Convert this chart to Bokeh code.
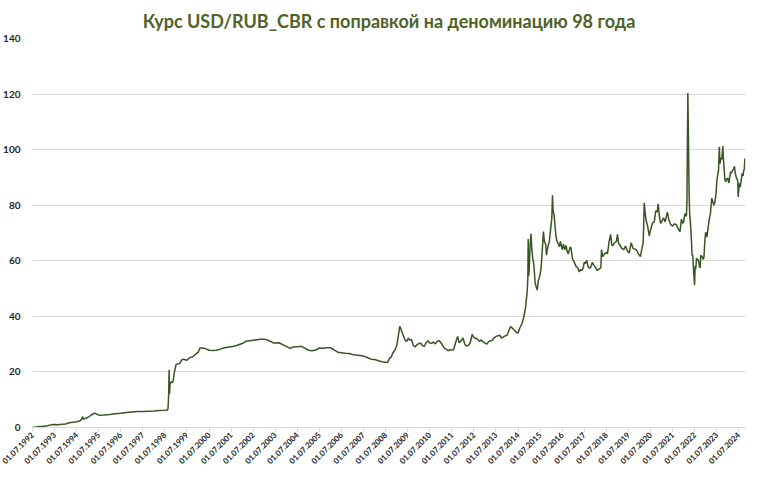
import math
import pandas as pd
from bokeh.plotting import figure
from bokeh.models import FixedTicker, DatetimeTickFormatter, Range1d, ColumnDataSource
from bokeh.embed import file_html
from bokeh.resources import INLINE

title_text = "Курс USD/RUB_CBR с поправкой на деноминацию 98 года"

tick_years = list(range(1992, 2025))
y_ticks = [0, 20, 40, 60, 80, 100, 120, 140]

dates = [
    "1992-07-01", "1992-09-01", "1992-11-01", "1993-01-01", "1993-03-01", "1993-05-01",
    "1993-07-01", "1993-09-01", "1993-11-01", "1994-01-01", "1994-03-01", "1994-05-01",
    "1994-07-01", "1994-09-01", "1994-10-11", "1994-10-14", "1994-11-01", "1995-01-01",
    "1995-03-01", "1995-04-15", "1995-05-15", "1995-06-15", "1995-07-15", "1995-10-01",
    "1996-01-01", "1996-04-01", "1996-07-01", "1996-10-01", "1997-01-01", "1997-04-01",
    "1997-07-01", "1997-10-01", "1998-01-01", "1998-04-01", "1998-07-01", "1998-08-17",
    "1998-08-25", "1998-09-01", "1998-09-09", "1998-09-15", "1998-09-25", "1998-10-01",
    "1998-10-15", "1998-11-01", "1998-11-15", "1998-12-01", "1999-01-01", "1999-02-01",
    "1999-03-01", "1999-04-01", "1999-05-01", "1999-06-01", "1999-07-01", "1999-08-01",
    "1999-09-01", "1999-10-01", "1999-11-01", "1999-12-01", "2000-01-01", "2000-02-01",
    "2000-03-01", "2000-05-01", "2000-07-01", "2000-09-01", "2000-11-01", "2001-01-01",
    "2001-03-01", "2001-05-01", "2001-07-01", "2001-09-01", "2001-11-01", "2002-01-01",
    "2002-03-01", "2002-05-01", "2002-07-01", "2002-09-01", "2002-11-01", "2003-01-01",
    "2003-03-01", "2003-05-01", "2003-06-01", "2003-07-01", "2003-09-01", "2003-11-01",
    "2004-01-01", "2004-03-01", "2004-05-01", "2004-07-01", "2004-09-01", "2004-11-01",
    "2005-01-01", "2005-03-01", "2005-05-01", "2005-07-01", "2005-09-01", "2005-11-01",
    "2006-01-01", "2006-03-01", "2006-05-01", "2006-07-01", "2006-09-01", "2006-11-01",
    "2007-01-01", "2007-03-01", "2007-05-01", "2007-07-01", "2007-09-01", "2007-11-01",
    "2008-01-01", "2008-03-01", "2008-05-01", "2008-07-01", "2008-08-01", "2008-09-01",
    "2008-10-01", "2008-11-01", "2008-12-01", "2009-01-01", "2009-01-20", "2009-02-19",
    "2009-03-10", "2009-04-01", "2009-05-01", "2009-05-20", "2009-06-15", "2009-07-10",
    "2009-08-01", "2009-09-01", "2009-10-01", "2009-11-01", "2009-12-01", "2010-01-01",
    "2010-02-01", "2010-03-01", "2010-04-01", "2010-05-01", "2010-06-01", "2010-07-01",
    "2010-08-01", "2010-09-01", "2010-10-01", "2010-11-01", "2010-12-01", "2011-01-01",
    "2011-02-01", "2011-03-01", "2011-04-01", "2011-05-01", "2011-06-01", "2011-07-01",
    "2011-08-01", "2011-09-01", "2011-10-05", "2011-11-01", "2011-12-01", "2012-01-01",
    "2012-02-01", "2012-03-01", "2012-04-01", "2012-05-01", "2012-06-01", "2012-07-01",
    "2012-08-01", "2012-09-01", "2012-10-01", "2012-11-01", "2012-12-01", "2013-01-01",
    "2013-02-01", "2013-03-01", "2013-04-01", "2013-05-01", "2013-06-01", "2013-07-01",
    "2013-08-01", "2013-09-01", "2013-10-01", "2013-11-01", "2013-12-01", "2014-01-01",
    "2014-02-01", "2014-03-01", "2014-04-01", "2014-05-01", "2014-06-01", "2014-07-01",
    "2014-08-01", "2014-09-01", "2014-10-01", "2014-11-01", "2014-11-20", "2014-12-01",
    "2014-12-10", "2014-12-16", "2014-12-22", "2015-01-01", "2015-01-15", "2015-02-01",
    "2015-02-15", "2015-03-01", "2015-03-20", "2015-04-10", "2015-04-25", "2015-05-15",
    "2015-06-01", "2015-06-20", "2015-07-15", "2015-08-01", "2015-08-25", "2015-09-10",
    "2015-10-01", "2015-10-15", "2015-11-01", "2015-12-01", "2015-12-25", "2016-01-10",
    "2016-01-22", "2016-02-01", "2016-02-20", "2016-03-10", "2016-03-25", "2016-04-15",
    "2016-05-01", "2016-05-15", "2016-06-01", "2016-06-15", "2016-07-01", "2016-07-20",
    "2016-08-10", "2016-09-01", "2016-09-20", "2016-10-10", "2016-11-10", "2016-11-25",
    "2016-12-15", "2017-01-15", "2017-02-15", "2017-03-15", "2017-04-10", "2017-05-01",
    "2017-05-20", "2017-06-15", "2017-07-01", "2017-07-20", "2017-08-10", "2017-09-01",
    "2017-09-15", "2017-10-15", "2017-11-10", "2017-12-01", "2018-01-01", "2018-02-01",
    "2018-03-01", "2018-04-01", "2018-04-12", "2018-05-01", "2018-06-01", "2018-07-01",
    "2018-07-20", "2018-08-15", "2018-09-10", "2018-10-01", "2018-10-20", "2018-11-15",
    "2018-12-15", "2019-01-01", "2019-01-20", "2019-02-15", "2019-03-15", "2019-04-15",
    "2019-05-15", "2019-06-15", "2019-07-15", "2019-08-15", "2019-09-15", "2019-10-15",
    "2019-11-15", "2019-12-15", "2020-01-15", "2020-02-01", "2020-03-01", "2020-03-10",
    "2020-03-19", "2020-04-05", "2020-04-20", "2020-05-15", "2020-06-10", "2020-07-01",
    "2020-08-01", "2020-09-01", "2020-09-25", "2020-10-20", "2020-11-05", "2020-11-25",
    "2020-12-15", "2021-01-01", "2021-02-01", "2021-03-01", "2021-04-05", "2021-05-01",
    "2021-06-01", "2021-07-01", "2021-08-01", "2021-09-01", "2021-10-15", "2021-11-01",
    "2021-11-25", "2021-12-15", "2022-01-01", "2022-01-20", "2022-02-15", "2022-02-24",
    "2022-03-01", "2022-03-11", "2022-03-20", "2022-04-01", "2022-04-10", "2022-04-25",
    "2022-05-10", "2022-05-20", "2022-06-01", "2022-06-15", "2022-06-30", "2022-07-10",
    "2022-07-20", "2022-08-01", "2022-08-15", "2022-09-01", "2022-09-20", "2022-10-01",
    "2022-10-10", "2022-11-01", "2022-11-15", "2022-12-01", "2022-12-20", "2023-01-01",
    "2023-01-20", "2023-02-10", "2023-03-01", "2023-03-20", "2023-04-10", "2023-04-25",
    "2023-05-15", "2023-06-01", "2023-06-20", "2023-07-05", "2023-07-20", "2023-08-01",
    "2023-08-14", "2023-08-25", "2023-09-10", "2023-09-25", "2023-10-10", "2023-10-20",
    "2023-11-01", "2023-11-15", "2023-12-01", "2023-12-15", "2024-01-01", "2024-01-20",
    "2024-02-01", "2024-02-15", "2024-03-01", "2024-03-20", "2024-04-05", "2024-04-20",
    "2024-05-05", "2024-05-20", "2024-06-01", "2024-06-15", "2024-06-20", "2024-07-01",
    "2024-07-10", "2024-07-25", "2024-08-10", "2024-08-25", "2024-09-10", "2024-09-20",
    "2024-10-01", "2024-10-10",
]

rates = [
    0.13, 0.2, 0.4, 0.42, 0.65, 0.95,
    1.05, 1.0, 1.19, 1.25, 1.7, 1.85,
    2.05, 2.4, 3.9, 2.95, 3.1, 3.6,
    4.5, 5.1, 5.0, 4.6, 4.45, 4.5,
    4.65, 4.95, 5.1, 5.4, 5.56, 5.72,
    5.78, 5.87, 5.96, 6.1, 6.2, 6.3,
    7.9, 12.0, 20.8, 12.0, 16.0, 15.9,
    16.5, 16.1, 16.8, 19.5, 22.6, 22.9,
    23.0, 24.2, 24.6, 24.4, 24.2, 24.9,
    25.3, 25.4, 26.0, 26.6, 27.0, 28.6,
    28.6, 28.4, 27.8, 27.7, 27.8, 28.2,
    28.6, 28.9, 29.1, 29.3, 29.8, 30.2,
    31.0, 31.2, 31.4, 31.6, 31.8, 31.8,
    31.4, 30.8, 30.4, 30.4, 30.5, 29.8,
    29.2, 28.5, 29.0, 29.1, 29.2, 28.6,
    27.8, 27.6, 27.9, 28.6, 28.5, 28.7,
    28.7, 27.9, 27.1, 26.9, 26.7, 26.6,
    26.3, 26.1, 25.9, 25.7, 25.2, 24.6,
    24.5, 24.0, 23.7, 23.5, 23.4, 24.8,
    25.4, 27.0, 27.9, 29.4, 32.0, 36.4,
    35.5, 34.0, 32.5, 31.3, 31.0, 32.2,
    31.5, 31.7, 29.6, 29.0, 29.8, 30.2,
    30.3, 29.5, 29.2, 30.5, 31.2, 30.4,
    30.3, 30.8, 30.1, 31.0, 31.3, 30.5,
    29.5, 28.5, 28.2, 27.6, 28.0, 27.9,
    28.0, 30.5, 32.8, 30.5, 31.2, 32.2,
    30.0, 29.3, 29.5, 30.5, 33.5, 32.3,
    32.1, 31.8, 31.0, 31.5, 30.8, 30.4,
    30.0, 30.9, 31.2, 31.4, 32.3, 32.8,
    33.0, 33.2, 32.2, 32.6, 33.0, 33.2,
    35.0, 36.3, 35.7, 35.0, 34.3, 34.0,
    35.9, 37.2, 39.5, 43.0, 47.0, 49.3,
    54.0, 67.8, 54.5, 56.2, 65.0, 69.7,
    64.0, 61.0, 58.5, 52.0, 50.8, 49.5,
    53.0, 54.0, 57.0, 62.0, 70.5, 67.0,
    66.0, 62.0, 64.5, 67.0, 72.0, 75.0,
    83.6, 78.0, 76.0, 71.0, 68.0, 66.5,
    66.0, 65.0, 67.0, 65.5, 64.0, 66.0,
    64.0, 65.5, 63.5, 62.5, 65.0, 64.5,
    61.0, 59.5, 58.0, 57.5, 56.0, 56.8,
    56.5, 57.5, 59.5, 59.0, 60.2, 58.0,
    57.4, 57.6, 59.4, 58.6, 57.6, 56.5,
    57.0, 57.5, 64.0, 61.5, 62.5, 63.0,
    62.5, 66.8, 69.5, 65.5, 65.6, 66.5,
    67.0, 69.5, 66.3, 65.5, 64.5, 64.0,
    65.3, 63.5, 62.8, 66.5, 64.5, 64.2,
    63.8, 62.5, 61.5, 63.5, 66.5, 72.0,
    80.9, 77.0, 74.5, 72.5, 69.0, 71.0,
    73.5, 74.0, 78.0, 77.5, 80.5, 76.0,
    73.5, 74.0, 75.5, 74.0, 77.5, 74.8,
    73.0, 72.5, 73.3, 73.0, 71.0, 70.5,
    75.0, 73.5, 74.0, 77.0, 76.0, 81.0,
    95.0, 120.4, 105.0, 84.0, 77.0, 73.0,
    67.0, 62.0, 62.0, 56.0, 51.2, 58.0,
    57.0, 61.0, 60.3, 60.3, 58.0, 57.4,
    62.0, 61.5, 60.5, 61.0, 68.0, 70.3,
    68.5, 72.0, 75.0, 77.0, 82.5, 81.5,
    80.0, 81.0, 84.0, 89.0, 91.0, 92.5,
    101.0, 95.0, 97.0, 96.5, 101.3, 97.0,
    93.0, 89.0, 88.5, 89.5, 89.7, 88.0,
    90.0, 92.0, 91.5, 92.5, 93.0, 94.0,
    91.5, 90.0, 89.5, 88.5, 83.0, 85.5,
    87.9, 86.5, 89.0, 91.5, 90.5, 92.5,
    93.0, 96.8,
]

x = pd.to_datetime(dates)
source = ColumnDataSource(data=dict(x=x, y=rates))

tick_ms = [pd.Timestamp(f"{yr}-07-01").value / 1e6 for yr in tick_years]

p = figure(
    frame_width=713, frame_height=389,
    x_axis_type="datetime",
    output_backend="svg",
    toolbar_location=None,
    min_border_left=27, min_border_right=2,
    min_border_top=0, min_border_bottom=0,
)

p.x_range = Range1d(pd.Timestamp("1992-07-01"), pd.Timestamp("2024-10-20"))
p.y_range = Range1d(0, 140)

p.line("x", "y", source=source, line_color="#375623", line_width=1.5)

p.title.text = title_text
p.title.align = "center"
p.title.text_font = "Lato"
p.title.text_font_size = "18px"
p.title.text_font_style = "bold"
p.title.text_color = "#4F6228"
p.title.standoff = 14

p.outline_line_color = None
p.background_fill_color = "white"
p.border_fill_color = "white"

p.xgrid.grid_line_color = None
p.ygrid.grid_line_color = "#D9D9D9"
p.ygrid.grid_line_width = 1

p.yaxis.ticker = FixedTicker(ticks=y_ticks)
p.yaxis.axis_line_color = None
p.yaxis.major_tick_line_color = None
p.yaxis.minor_tick_line_color = None
p.yaxis.major_label_text_font = "Lato"
p.yaxis.major_label_text_font_size = "10px"
p.yaxis.major_label_text_font_style = "bold"
p.yaxis.major_label_text_color = "#262626"
p.yaxis.major_label_standoff = 6

p.xaxis.ticker = FixedTicker(ticks=tick_ms)
fmt = "%d.%m.%Y"
p.xaxis.formatter = DatetimeTickFormatter(
    milliseconds=fmt, seconds=fmt, minsec=fmt, minutes=fmt, hourmin=fmt,
    hours=fmt, days=fmt, months=fmt, years=fmt,
)
p.xaxis.axis_line_color = "#D9D9D9"
p.xaxis.major_tick_line_color = "#D9D9D9"
p.xaxis.major_tick_in = 0
p.xaxis.major_tick_out = 4
p.xaxis.minor_tick_line_color = None
p.xaxis.major_label_orientation = math.pi / 4
p.xaxis.major_label_text_font = "Lato"
p.xaxis.major_label_text_font_size = "8px"
p.xaxis.major_label_text_font_style = "bold"
p.xaxis.major_label_text_color = "#262626"
p.xaxis.major_label_standoff = 2

open("out.html", "w").write(file_html(p, INLINE))
